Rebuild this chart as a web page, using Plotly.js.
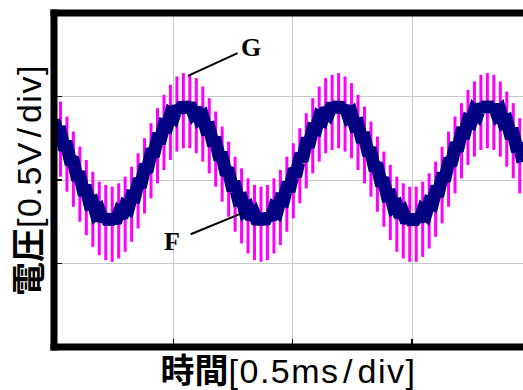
<!DOCTYPE html>
<html><head><meta charset="utf-8">
<script src="https://cdn.plot.ly/plotly-3.0.1.min.js"></script>
<style>html,body{margin:0;padding:0;background:#fff}#chart{width:523px;height:390px}</style>
</head><body><div id="chart"></div>
<script>
// Time base (ms) of the scope samples
const NAVY_DT_MS = 0.01355;   // F trace sample step
const STROKE_DT_MS = 0.0271;  // G trace ripple stroke step

// Trace F (navy) voltage samples [V]
const navyF = [0.360,0.286,0.287,0.206,0.203,0.118,0.112,0.026,0.022,-0.061,
-0.062,-0.139,-0.132,-0.200,-0.184,-0.241,-0.213,-0.259,-0.219,-0.253,
-0.201,-0.222,-0.158,-0.170,-0.097,-0.100,-0.019,-0.016,0.069,0.074,
0.160,0.165,0.249,0.249,0.328,0.322,0.392,0.377,0.437,0.410,
0.458,0.420,0.455,0.405,0.428,0.366,0.379,0.307,0.311,0.232,
0.229,0.145,0.140,0.054,0.048,-0.036,-0.038,-0.117,-0.113,-0.184,
-0.170,-0.231,-0.207,-0.257,-0.220,-0.257,-0.209,-0.234,-0.173,-0.188,
-0.117,-0.122,-0.044,-0.042,0.042,0.047,0.133,0.138,0.223,0.225,
0.305,0.302,0.375,0.363,0.425,0.403,0.454,0.420,0.459,0.412,
0.439,0.380,0.396,0.327,0.333,0.256,0.255,0.172,0.167,0.081,
0.076,-0.009,-0.013,-0.094,-0.091,-0.165,-0.155,-0.219,-0.198,-0.251,
-0.219,-0.260,-0.215,-0.244,-0.186,-0.204,-0.136,-0.144,-0.067,-0.067,
0.015,0.019,0.105,0.111,0.196,0.200,0.282,0.281,0.355,0.346,
0.412,0.393,0.448,0.417,0.460,0.417,0.447,0.392,0.411,0.345,
0.354,0.279,0.279,0.197,0.193,0.108];

// Trace G (magenta) ripple: top and bottom of each stroke [V]
const magentaTop = [0.54,0.47,0.38,0.29,0.20,0.12,0.05,-0.01,-0.03,-0.04,
-0.02,0.02,0.08,0.16,0.25,0.34,0.43,0.51,0.57,0.62,
0.64,0.63,0.61,0.56,0.49,0.41,0.32,0.23,0.14,0.07,
0.01,-0.03,-0.04,-0.03,0.01,0.06,0.14,0.22,0.31,0.40,
0.49,0.56,0.61,0.63,0.64,0.62,0.58,0.51,0.44,0.35,
0.26,0.17,0.09,0.02,-0.02,-0.04,-0.04,-0.01,0.04,0.11,
0.20,0.29,0.38,0.46,0.54,0.59,0.63,0.64,0.63,0.59,
0.53,0.46,0.37];
const magentaBottom = [0.09,0.02,-0.07,-0.16,-0.25,-0.33,-0.40,-0.45,-0.48,-0.49,
-0.47,-0.43,-0.37,-0.29,-0.20,-0.11,-0.02,0.06,0.12,0.17,
0.19,0.19,0.16,0.11,0.04,-0.04,-0.13,-0.22,-0.31,-0.38,
-0.44,-0.48,-0.49,-0.48,-0.44,-0.39,-0.31,-0.23,-0.14,-0.05,
0.04,0.11,0.16,0.18,0.19,0.17,0.13,0.06,-0.02,-0.10,
-0.19,-0.28,-0.36,-0.43,-0.47,-0.49,-0.49,-0.46,-0.41,-0.34,
-0.26,-0.16,-0.08,0.01,0.09,0.14,0.18,0.19,0.18,0.14,
0.08,0.01,-0.08];

// Axis / label texts
const xTitleCJK = '時間', xTitleUnitA = '[0.5m', xTitleUnitB = 's/', xTitleUnitC = 'div]';
const yTitleCJK = '電圧', yTitleUnitA = '[0.5', yTitleUnitB = 'V/', yTitleUnitC = 'div]';
const labelG = 'G';
const labelF = 'F';

// Build G strokes (vertical segments) from top/bottom arrays
const gx = [], gy = [];
for (let j = 0; j < magentaTop.length; j++) {
  const t = j * STROKE_DT_MS;
  gx.push(t, t, null);
  gy.push(magentaTop[j], magentaBottom[j], null);
}

const traces = [
  {x: gx, y: gy, mode: 'lines', connectgaps: false,
   line: {color: '#ff00ff', width: 3, simplify: false}, hoverinfo: 'skip'},
  {y: navyF, x0: 0, dx: NAVY_DT_MS, mode: 'lines',
   line: {color: '#000080', width: 13, simplify: false}, hoverinfo: 'skip'}
];

function unitText(cjk, a, b, c) {
  return '<b>' + cjk + '</b>' +
    '<span style="letter-spacing:1.5px">' + a + '</span>' +
    '<span style="letter-spacing:5px">' + b + '</span>' +
    '<span style="letter-spacing:1.5px">' + c + '</span>';
}
const fam = 'Liberation Sans, Noto Sans CJK JP, sans-serif';
const xTitle = unitText(xTitleCJK, xTitleUnitA, xTitleUnitB, xTitleUnitC);
const yTitle = unitText(yTitleCJK, yTitleUnitA, yTitleUnitB, yTitleUnitC);
const bw = 7;
const layout = {
  width: 523, height: 390,
  margin: {l: 54, r: 0, t: 13, b: 43, pad: 0},
  paper_bgcolor: '#fff', plot_bgcolor: '#fff',
  showlegend: false,
  xaxis: {range: [0, 1.965], tick0: 0, dtick: 0.5, showgrid: true, gridcolor: '#c8c8c8', gridwidth: 1,
    zeroline: false, showline: false, ticks: 'inside', ticklen: 8, tickwidth: 1.5, tickcolor: '#000',
    showticklabels: false, fixedrange: true, automargin: false,
    title: {text: xTitle, font: {family: fam, size: 34, color: '#000'}, standoff: 12}},
  yaxis: {range: [-1, 1], tick0: 0, dtick: 0.5, showgrid: true, gridcolor: '#c8c8c8', gridwidth: 1,
    zeroline: false, showline: false, ticks: 'inside', ticklen: 8, tickwidth: 1.5, tickcolor: '#000',
    showticklabels: false, fixedrange: true, automargin: false,
    title: {text: yTitle, font: {family: fam, size: 34, color: '#000'}, standoff: 1}},
  shapes: [
    {type: 'line', xref: 'paper', yref: 'paper', x0: -0.0075, x1: 1, y0: 0, y1: 0, line: {color: '#000', width: bw}, layer: 'above'},
    {type: 'line', xref: 'paper', yref: 'paper', x0: -0.0075, x1: 1, y0: 1, y1: 1, line: {color: '#000', width: bw}, layer: 'above'},
    {type: 'line', xref: 'paper', yref: 'paper', x0: 0, x1: 0, y0: -0.0105, y1: 1.0105, line: {color: '#000', width: bw}, layer: 'above'}
  ],
  annotations: [
    {text: labelG, x: 0.561, y: 0.623, xref: 'x', yref: 'y', axref: 'x', ayref: 'y', ax: 0.825, ay: 0.796,
     showarrow: true, arrowhead: 0, arrowwidth: 2, arrowcolor: '#000', standoff: 0, startstandoff: 2,
     font: {family: 'Liberation Serif, serif', size: 26, color: '#000', weight: 'bold'}},
    {text: labelF, x: 0.788, y: -0.198, xref: 'x', yref: 'y', axref: 'x', ayref: 'y', ax: 0.494, ay: -0.371,
     showarrow: true, arrowhead: 0, arrowwidth: 2, arrowcolor: '#000', standoff: 0, startstandoff: 10,
     font: {family: 'Liberation Serif, serif', size: 26, color: '#000', weight: 'bold'}}
  ]
};

Plotly.newPlot('chart', traces, layout, {displayModeBar: false, staticPlot: true});
</script>
</body></html>
